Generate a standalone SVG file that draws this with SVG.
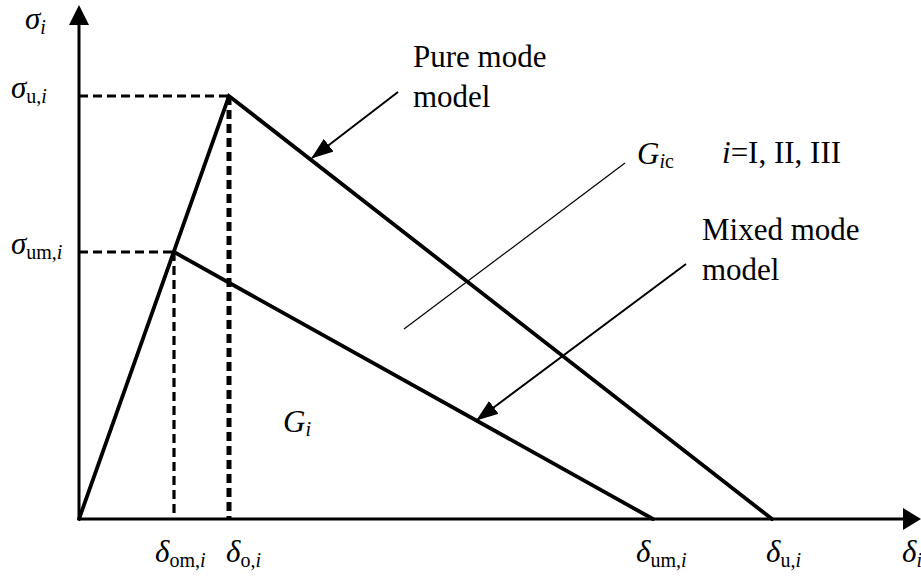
<svg xmlns="http://www.w3.org/2000/svg" width="921" height="576" viewBox="0 0 921 576">
<style>
text{font-family:"Liberation Serif","Times New Roman",serif;fill:#000}
.lbl{font-size:31px}
.it{font-style:italic}
.sub{font-size:20px}
.main{stroke:#000;stroke-width:3.8;fill:none;stroke-linecap:round}
.axis{stroke:#000;stroke-width:3;fill:none}
.dash{stroke:#000;stroke-width:3.2;stroke-dasharray:9 5;fill:none}
.dashb{stroke:#000;stroke-width:5;stroke-dasharray:9 5;fill:none}
.ptr{stroke:#000;stroke-width:2;fill:none}
.thin{stroke:#000;stroke-width:1.2;fill:none}
</style>
<defs>
<marker id="ah2" markerWidth="22" markerHeight="16" refX="21" refY="8" orient="auto" markerUnits="userSpaceOnUse" viewBox="0 0 22 16">
<path d="M0,0 L22,8 L0,16 Z" fill="#000"/>
</marker>
</defs>
<g id="axes">
<line class="axis" x1="79" y1="519" x2="79" y2="22"/>
<polygon points="69,25 79,5 89,25" fill="#000"/>
<line class="axis" x1="79" y1="519" x2="906" y2="519"/>
<polygon points="903,508 921,519 903,530" fill="#000"/>
</g>
<g id="guides">
<line class="dash" x1="79" y1="96" x2="229" y2="96"/>
<line class="dashb" x1="229" y1="96" x2="229" y2="519"/>
<line class="dash" x1="79" y1="252" x2="174" y2="252"/>
<line class="dash" x1="174" y1="252" x2="174" y2="519"/>
</g>
<g id="curves">
<polyline class="main" points="79,519 229,96 772,519"/>
<polyline class="main" points="174,252 653,519"/>
<line class="thin" x1="625" y1="163" x2="404" y2="329"/>
</g>
<g id="connectors">
<line class="ptr" x1="398" y1="92" x2="312" y2="158" marker-end="url(#ah2)"/>
<line class="ptr" x1="686" y1="264" x2="477" y2="420" marker-end="url(#ah2)"/>
</g>
<g id="labels">
<text class="lbl" x="25" y="29"><tspan class="it">σ</tspan><tspan class="sub it" dy="5">i</tspan></text>
<text class="lbl" x="11" y="98"><tspan class="it">σ</tspan><tspan class="sub" dy="5">u,</tspan><tspan class="sub it">i</tspan></text>
<text class="lbl" x="11" y="254"><tspan class="it">σ</tspan><tspan class="sub" dy="5">um,</tspan><tspan class="sub it">i</tspan></text>
<text class="lbl" x="155" y="562"><tspan class="it">δ</tspan><tspan class="sub" dy="5">om,</tspan><tspan class="sub it">i</tspan></text>
<text class="lbl" x="226" y="562"><tspan class="it">δ</tspan><tspan class="sub" dy="5">o,</tspan><tspan class="sub it">i</tspan></text>
<text class="lbl" x="636" y="562"><tspan class="it">δ</tspan><tspan class="sub" dy="5">um,</tspan><tspan class="sub it">i</tspan></text>
<text class="lbl" x="766" y="562"><tspan class="it">δ</tspan><tspan class="sub" dy="5">u,</tspan><tspan class="sub it">i</tspan></text>
<text class="lbl" x="902" y="562"><tspan class="it">δ</tspan><tspan class="sub it" dy="5">i</tspan></text>
<text class="lbl" x="413" y="67">Pure mode</text>
<text class="lbl" x="413" y="107">model</text>
<text class="lbl" x="637" y="164"><tspan class="it">G</tspan><tspan class="sub" dy="4"><tspan class="it">i</tspan>c</tspan></text>
<text class="lbl" x="722" y="163"><tspan class="it">i</tspan>=I, II, III</text>
<text class="lbl" x="702" y="240">Mixed mode</text>
<text class="lbl" x="702" y="280">model</text>
<text class="lbl" x="283" y="432"><tspan class="it">G</tspan><tspan class="sub it" dy="4">i</tspan></text>
</g>
</svg>
